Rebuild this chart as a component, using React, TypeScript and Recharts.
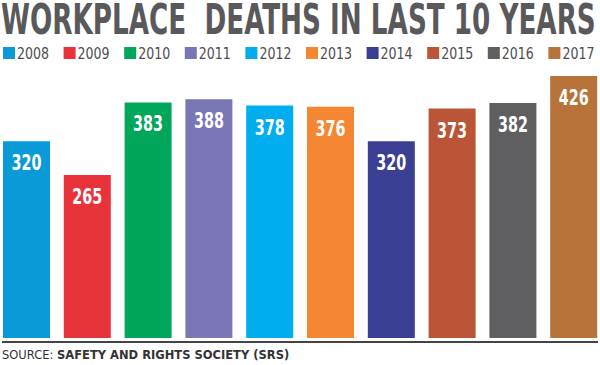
import { BarChart, Bar, XAxis, YAxis, Cell, LabelList } from 'recharts';

// Workplace deaths per year (SRS)
const years = ['2008', '2009', '2010', '2011', '2012', '2013', '2014', '2015', '2016', '2017'];
const deaths = [320, 265, 383, 388, 378, 376, 320, 373, 382, 426];
const colors = [
  '#0a9ad7',
  '#e8333a',
  '#00a65a',
  '#7b77b7',
  '#00aeef',
  '#f58733',
  '#3b3f94',
  '#bb5537',
  '#5f5f61',
  '#b8733a',
];

const data = years.map((year, i) => ({ year, deaths: deaths[i] }));

const condensed = "'DejaVu Sans Condensed', 'DejaVu Sans', sans-serif";

// white value label squeezed to look like the condensed print font
const ValueLabel = (props: any) => {
  const { x, y, width, value } = props;
  return (
    <text
      x={x + width / 2 - 15}
      y={y + 29}
      textLength={30}
      lengthAdjust="spacingAndGlyphs"
      fill="#fff"
      fontFamily={condensed}
      fontWeight="bold"
      fontSize={22}
    >
      {value}
    </text>
  );
};

export default function App() {
  return (
    <div style={{ position: 'fixed', left: 0, top: 0, width: 600, height: 365, background: '#fff', overflow: 'hidden' }}>
      <svg width={600} height={64} style={{ position: 'absolute', left: 0, top: 0 }}>
        <g transform="translate(1,34) scale(0.65,1)">
          <text
            x={0}
            y={0}
            textLength={915}
            lengthAdjust="spacingAndGlyphs"
            fill="#59595b"
            fontFamily={condensed}
            fontWeight="bold"
            fontSize={42}
            style={{ whiteSpace: 'pre' }}
          >
            WORKPLACE  DEATHS IN LAST 10 YEARS
          </text>
        </g>
        {years.map((year, i) => (
          <g key={year}>
            <rect x={3 + i * 60.6} y={47} width={12} height={12} fill={colors[i]} />
            <text
              x={17 + i * 60.6}
              y={59}
              textLength={32}
              lengthAdjust="spacingAndGlyphs"
              fill="#4d4d4f"
              fontFamily={condensed}
              fontSize={16}
            >
              {year}
            </text>
          </g>
        ))}
      </svg>

      <div style={{ position: 'absolute', left: -4, top: 0 }}>
        <BarChart width={608} height={365} data={data} margin={{ top: 76, right: 0, bottom: 27, left: 0 }}>
          <XAxis dataKey="year" hide />
          <YAxis hide domain={[0, 426]} />
          <Bar dataKey="deaths" barSize={47} isAnimationActive={false}>
            {data.map((entry, index) => (
              <Cell key={`cell-${index}`} fill={colors[index]} />
            ))}
            <LabelList dataKey="deaths" content={ValueLabel} />
          </Bar>
        </BarChart>
      </div>

      <div style={{ position: 'absolute', left: 2, top: 341, width: 596, height: 2, background: '#444' }} />
      <div
        style={{
          position: 'absolute',
          left: 2,
          top: 348,
          fontFamily: "'DejaVu Sans', sans-serif",
          fontSize: 11.5,
          color: '#333',
          whiteSpace: 'nowrap',
        }}
      >
        SOURCE: <b>SAFETY AND RIGHTS SOCIETY (SRS)</b>
      </div>
    </div>
  );
}
